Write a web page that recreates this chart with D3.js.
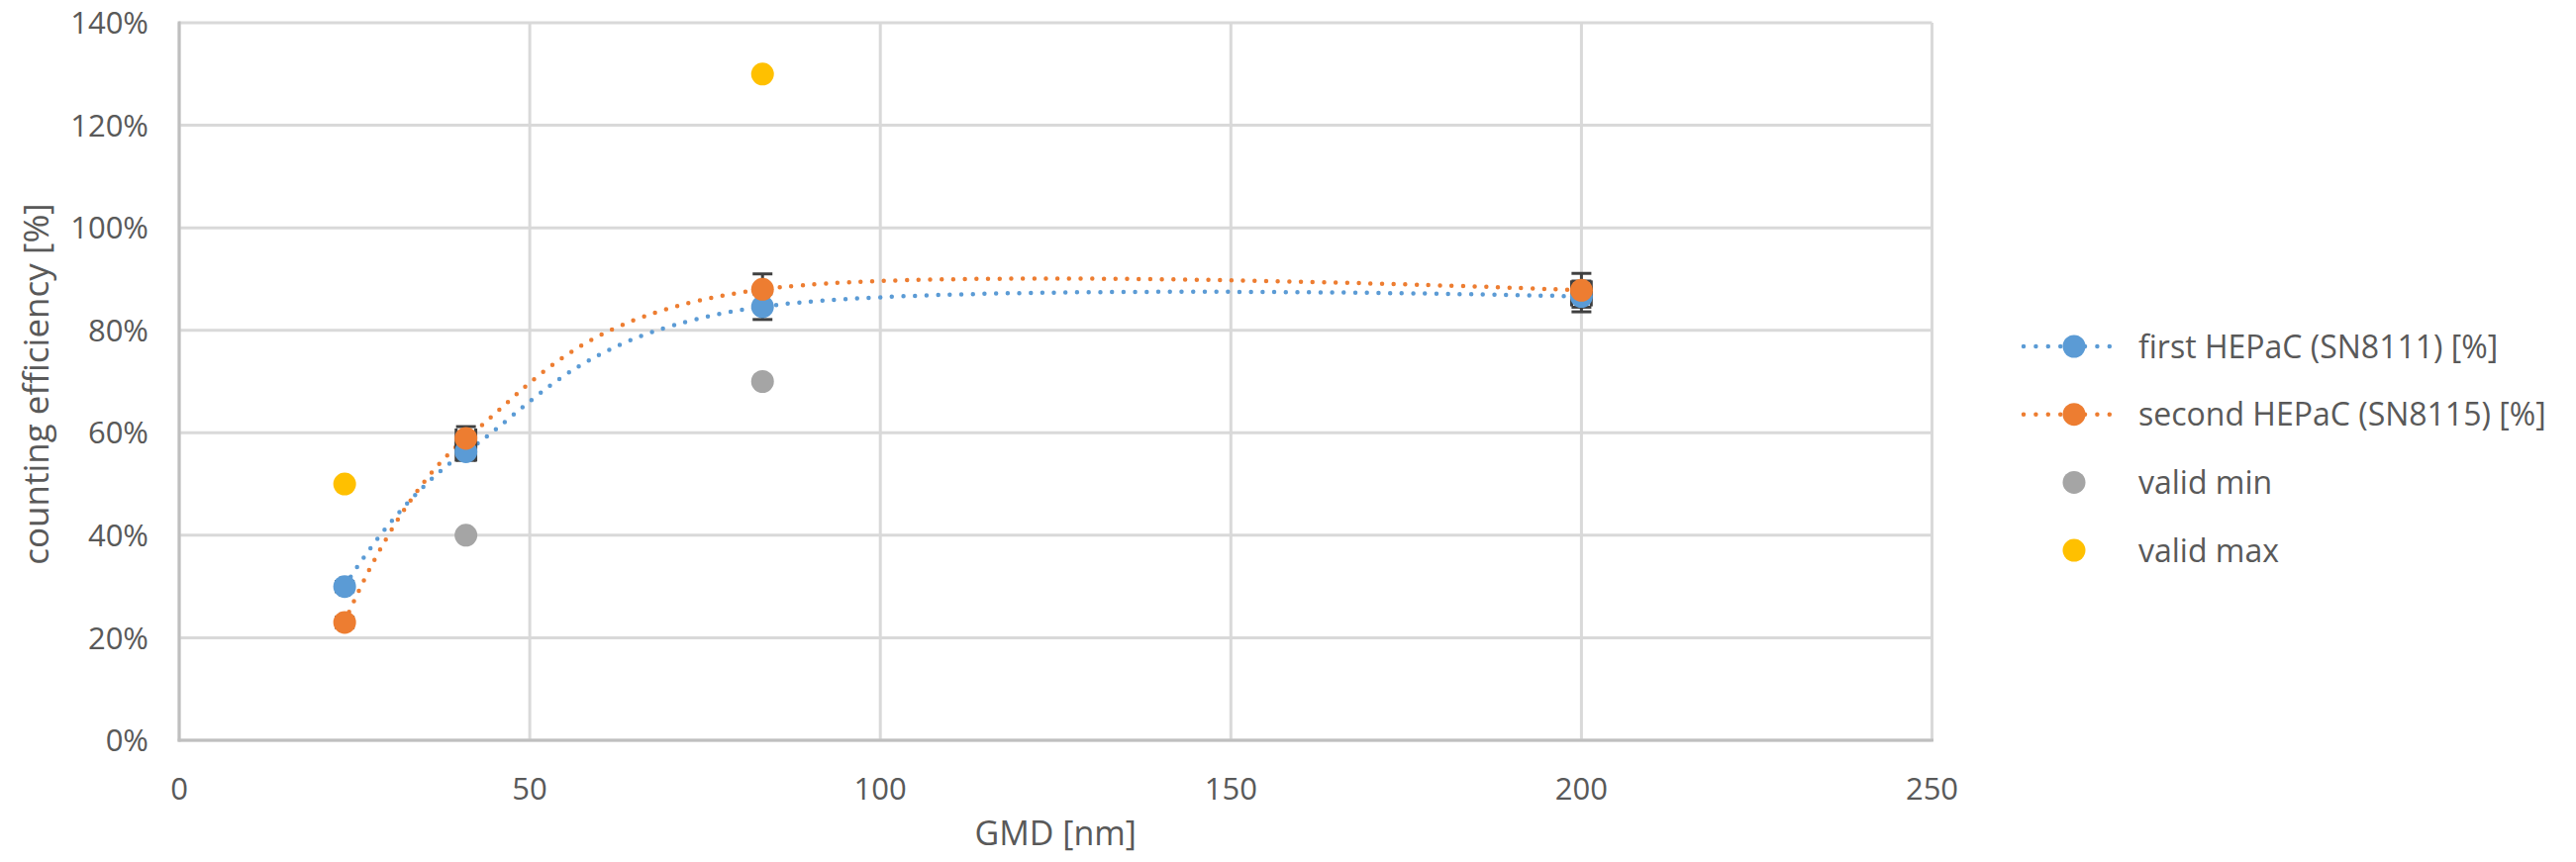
<!DOCTYPE html>
<html>
<head>
<meta charset="utf-8">
<script src="https://cdn.jsdelivr.net/npm/d3@7"></script>
<style>
  body { margin: 0; background: #fff; }
  text { font-family: "Open Sans", sans-serif; fill: #595959; }
</style>
</head>
<body>
<div id="chart"></div>
<script>
// GMD values [nm]
const gmd = [23.6, 40.9, 83.2, 200];
// counting efficiency [%]
const firstHepac = [30, 56.3, 84.6, 86.6];
const secondHepac = [23, 58.9, 88, 87.8];
const firstErrY = [1, 1.7, 2.5, 3.0];
const secondErrY = [1, 2.3, 3.0, 3.3];
const errX = [0.6, 1.4, 0.5, 1.4];
// reference limits
const validMinX = [40.9, 83.2];
const validMin = [40, 70];
const validMaxX = [23.6, 83.2];
const validMax = [50, 130];

const xTicks = [0, 50, 100, 150, 200, 250];
const yTicks = [0, 20, 40, 60, 80, 100, 120, 140];

const legendNames = ["first HEPaC (SN8111) [%]", "second HEPaC (SN8115) [%]", "valid min", "valid max"];
const colors = ["#5B9BD5", "#ED7D31", "#A5A5A5", "#FFC000"];

const width = 2602, height = 871;
const margin = {left: 181, right: 650.5, top: 23, bottom: 123};

const svg = d3.select("#chart")
    .append("svg")
    .attr("width", width)
    .attr("height", height);

svg.append("rect").attr("width", width).attr("height", height).attr("fill", "#fff");

const x = d3.scaleLinear().domain([0, 250]).range([margin.left, width - margin.right]);
const y = d3.scaleLinear().domain([0, 140]).range([height - margin.bottom, margin.top]);

// gridlines
svg.append("g")
  .selectAll("line")
  .data(yTicks)
  .join("line")
    .attr("x1", x(0)).attr("x2", x(250))
    .attr("y1", d => y(d)).attr("y2", d => y(d))
    .attr("stroke", "#D9D9D9").attr("stroke-width", 3);
svg.append("g")
  .selectAll("line")
  .data(xTicks)
  .join("line")
    .attr("x1", d => x(d)).attr("x2", d => x(d))
    .attr("y1", y(0)).attr("y2", y(140))
    .attr("stroke", "#D9D9D9").attr("stroke-width", 3);

// axis lines
svg.append("line")
  .attr("x1", x(0)).attr("x2", x(0)).attr("y1", y(0) + 1.5).attr("y2", y(140) - 1.5)
  .attr("stroke", "#BFBFBF").attr("stroke-width", 3);
svg.append("line")
  .attr("x1", x(0) - 1.5).attr("x2", x(250) + 1.5).attr("y1", y(0)).attr("y2", y(0))
  .attr("stroke", "#BFBFBF").attr("stroke-width", 3);

// tick labels
svg.append("g")
  .selectAll("text")
  .data(yTicks)
  .join("text")
    .attr("x", 150)
    .attr("y", d => y(d))
    .attr("dy", "0.36em")
    .attr("text-anchor", "end")
    .style("font-size", "31px")
    .text(d => d + "%");
svg.append("g")
  .selectAll("text")
  .data(xTicks)
  .join("text")
    .attr("x", d => x(d))
    .attr("y", 797)
    .attr("dy", "0.36em")
    .attr("text-anchor", "middle")
    .style("font-size", "31px")
    .text(d => d);

// axis titles
svg.append("text")
  .attr("transform", "translate(36, 388) rotate(-90)")
  .attr("dy", "0.36em")
  .attr("text-anchor", "middle")
  .style("font-size", "35px")
  .text("counting efficiency [%]");
svg.append("text")
  .attr("x", (x(0) + x(250)) / 2)
  .attr("y", 842)
  .attr("dy", "0.36em")
  .attr("text-anchor", "middle")
  .style("font-size", "34px")
  .text("GMD [nm]");

const series = [
  {vals: firstHepac, err: firstErrY, color: colors[0]},
  {vals: secondHepac, err: secondErrY, color: colors[1]}
];

// smoothed dotted lines
const line = d3.line()
  .x(d => x(d[0]))
  .y(d => y(d[1]))
  .curve(d3.curveCardinal.tension(0));

series.forEach(s => {
  svg.append("path")
    .datum(gmd.map((g, i) => [g, s.vals[i]]))
    .attr("d", line)
    .attr("fill", "none")
    .attr("stroke", s.color)
    .attr("stroke-width", 4.5)
    .attr("stroke-linecap", "round")
    .attr("stroke-dasharray", "0 11.7");
});

// error bars (under the markers)
const eb = svg.append("g").attr("stroke", "#404040").attr("stroke-width", 3).attr("fill", "none");
const cap = 10;
series.forEach(s => {
  gmd.forEach((g, i) => {
    const cx = x(g), cy = y(s.vals[i]);
    const y1 = y(s.vals[i] + s.err[i]), y2 = y(s.vals[i] - s.err[i]);
    eb.append("line").attr("x1", cx).attr("x2", cx).attr("y1", y1).attr("y2", y2);
    eb.append("line").attr("x1", cx - cap).attr("x2", cx + cap).attr("y1", y1).attr("y2", y1);
    eb.append("line").attr("x1", cx - cap).attr("x2", cx + cap).attr("y1", y2).attr("y2", y2);
    const x1 = x(g - errX[i]), x2 = x(g + errX[i]);
    eb.append("line").attr("x1", x1).attr("x2", x2).attr("y1", cy).attr("y2", cy);
    eb.append("line").attr("x1", x1).attr("x2", x1).attr("y1", cy - cap).attr("y2", cy + cap);
    eb.append("line").attr("x1", x2).attr("x2", x2).attr("y1", cy - cap).attr("y2", cy + cap);
  });
});

// markers
const r = 11.5;
function dots(xs, vals, color) {
  svg.append("g")
    .selectAll("circle")
    .data(xs.map((g, i) => [g, vals[i]]))
    .join("circle")
      .attr("cx", d => x(d[0]))
      .attr("cy", d => y(d[1]))
      .attr("r", r)
      .attr("fill", color);
}
dots(gmd, firstHepac, colors[0]);
dots(gmd, secondHepac, colors[1]);
dots(validMinX, validMin, colors[2]);
dots(validMaxX, validMax, colors[3]);

// legend
const legend = svg.append("g").attr("transform", "translate(2042, 350)");
const legendEntry = legend.selectAll("g")
  .data(legendNames)
  .enter().append("g")
  .attr("transform", (d, i) => `translate(0, ${i * 68.7})`);

legendEntry.filter((d, i) => i < 2)
  .append("line")
    .attr("x1", 2).attr("x2", 100)
    .attr("y1", 0).attr("y2", 0)
    .attr("stroke", (d, i) => colors[i])
    .attr("stroke-width", 4.5)
    .attr("stroke-linecap", "round")
    .attr("stroke-dasharray", "0 12.4");
legendEntry.append("circle")
  .attr("cx", 53)
  .attr("cy", 0)
  .attr("r", r)
  .attr("fill", (d, i) => colors[i]);
legendEntry.append("text")
  .attr("x", 118)
  .attr("y", 0)
  .attr("dy", "0.36em")
  .style("font-size", "32px")
  .text(d => d);
</script>
</body>
</html>
